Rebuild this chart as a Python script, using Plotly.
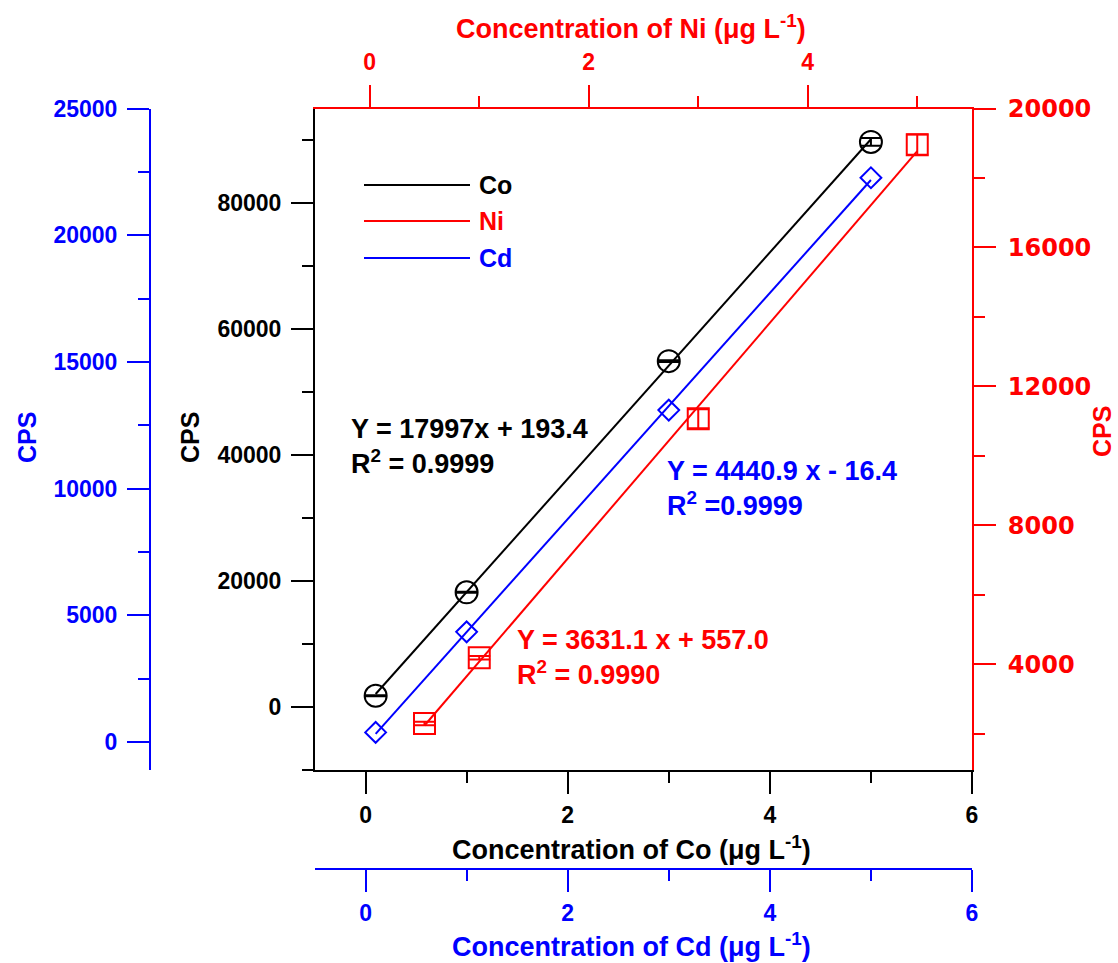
import numpy as np
import plotly.graph_objects as go

W, H = 1118, 963

# ---------------- data ----------------
co_x = [0.1, 1, 3, 5]
co_y = [1790, 18200, 54900, 89700]
co_err = [80, 80, 150, 600]

ni_x = [0.5, 1, 3, 5]
ni_y = [2300, 4190, 11070, 18960]
ni_err = [50, 50, 270, 290]

cd_x = [0.1, 1, 3, 5]
cd_y = [383, 4350, 13100, 22270]

co_eq = "Y = 17997x + 193.4<br>R<sup>2</sup> = 0.9999"
cd_eq = "Y = 4440.9 x - 16.4<br>R<sup>2</sup> =0.9999"
ni_eq = "Y = 3631.1 x + 557.0<br>R<sup>2</sup> = 0.9990"

legend_names = ["Co", "Ni", "Cd"]

# ---------------- helpers ----------------
def px(v):
    return v / W

def py(v):
    return 1 - v / H

BLACK, RED, BLUE = "#000000", "#FF0000", "#0000FF"
FONT = "Liberation Sans, Arial, sans-serif"
WIDE = "DejaVu Sans, Verdana, sans-serif"

def fit_line(xs, ys):
    k, b = np.polyfit(xs, ys, 1)
    xx = np.array([min(xs), max(xs)])
    return xx, k * xx + b

fig = go.Figure()

# fit lines
for xs, ys, col, xa, ya in [(co_x, co_y, BLACK, "x", "y"),
                            (ni_x, ni_y, RED, "x2", "y2"),
                            (cd_x, cd_y, BLUE, "x3", "y3")]:
    lx, ly = fit_line(xs, ys)
    fig.add_trace(go.Scatter(x=lx, y=ly, mode="lines", xaxis=xa, yaxis=ya,
                             line=dict(color=col, width=2), showlegend=False,
                             hoverinfo="skip"))

# markers
fig.add_trace(go.Scatter(x=co_x, y=co_y, mode="markers", name="Co",
                         xaxis="x", yaxis="y",
                         marker=dict(symbol="circle-open", size=22,
                                     color=BLACK, line=dict(width=2, color=BLACK)),
                         error_y=dict(type="data", array=co_err, width=11,
                                      thickness=2, color=BLACK),
                         showlegend=False))
fig.add_trace(go.Scatter(x=ni_x, y=ni_y, mode="markers", name="Ni",
                         xaxis="x2", yaxis="y2",
                         marker=dict(symbol="square-open", size=21,
                                     color=RED, line=dict(width=2, color=RED)),
                         error_y=dict(type="data", array=ni_err, width=11,
                                      thickness=2, color=RED),
                         showlegend=False))
fig.add_trace(go.Scatter(x=cd_x, y=cd_y, mode="markers", name="Cd",
                         xaxis="x3", yaxis="y3",
                         marker=dict(symbol="diamond-open", size=16,
                                     color=BLUE, line=dict(width=2, color=BLUE)),
                         showlegend=False))

xdom = [px(315), px(972)]
ydom = [py(770), py(108.5)]

def axis_common(col, family=FONT, size=23, standoff=0):
    return dict(showline=True, linecolor=col, linewidth=2,
                ticks="outside", ticklen=22, tickwidth=2, tickcolor=col,
                showgrid=False, zeroline=False, automargin=False,
                ticklabelstandoff=standoff,
                tickfont=dict(family=family, size=size, color=col, weight="bold"),
                tickformat="d")

fig.update_layout(
    width=W, height=H,
    margin=dict(l=0, r=0, t=0, b=0, pad=0, autoexpand=False),
    paper_bgcolor="white", plot_bgcolor="white",
    showlegend=False,
    xaxis=dict(domain=xdom, range=[-0.5, 6], anchor="y", side="bottom",
               tick0=0, dtick=2,
               minor=dict(dtick=1, ticklen=11, tickwidth=2, tickcolor=BLACK,
                          ticks="outside", showgrid=False),
               **axis_common(BLACK, standoff=1)),
    xaxis2=dict(domain=xdom, range=[-0.5, 5.5], anchor="y", side="top",
                overlaying="x", tick0=0, dtick=2,
                minor=dict(dtick=1, ticklen=11, tickwidth=2, tickcolor=RED,
                           ticks="outside", showgrid=False),
                **axis_common(RED, standoff=5)),
    xaxis3=dict(domain=xdom, range=[-0.5, 6], anchor="free", position=py(869),
                side="bottom", overlaying="x", tick0=0, dtick=2,
                minor=dict(dtick=1, ticklen=11, tickwidth=2, tickcolor=BLUE,
                           ticks="outside", showgrid=False),
                **axis_common(BLUE, standoff=1)),
    yaxis=dict(domain=ydom, range=[-10000, 95000], anchor="x", side="left",
               tick0=0, dtick=20000,
               minor=dict(dtick=10000, ticklen=11, tickwidth=2, tickcolor=BLACK,
                          ticks="outside", showgrid=False),
               **axis_common(BLACK, standoff=5)),
    yaxis2=dict(domain=ydom, range=[960, 20000], anchor="x", side="right",
                overlaying="y", tick0=0, dtick=4000,
                minor=dict(dtick=2000, ticklen=11, tickwidth=2, tickcolor=RED,
                           ticks="outside", showgrid=False),
                **axis_common(RED, WIDE, 24, standoff=7)),
    yaxis3=dict(domain=ydom, range=[-1100, 25000], anchor="free",
                position=px(150), side="left", overlaying="y",
                tick0=0, dtick=5000,
                minor=dict(dtick=2500, ticklen=11, tickwidth=2, tickcolor=BLUE,
                           ticks="outside", showgrid=False),
                **axis_common(BLUE, standoff=5)),
)

def note(text, x, y, col, size=27, angle=0, xanchor="center", align="center"):
    fig.add_annotation(text=text, x=px(x), y=py(y), xref="paper", yref="paper",
                       showarrow=False, textangle=angle, xanchor=xanchor,
                       yanchor="middle", align=align,
                       font=dict(family=FONT, size=size, color=col, weight="bold"))

# axis titles
note("Concentration of Co (μg L<sup>-1</sup>)", 631, 848, BLACK)
note("Concentration of Cd (μg L<sup>-1</sup>)", 631, 945, BLUE)
note("Concentration of Ni (μg L<sup>-1</sup>)", 631, 27, RED)
note("CPS", 190, 438, BLACK, size=25, angle=-90)
note("CPS", 27, 438, BLUE, size=25, angle=-90)
note("CPS", 1102, 432, RED, size=25, angle=-90)

# equations
note(co_eq, 349, 446, BLACK, xanchor="left", align="left")
note(cd_eq, 665, 489, BLUE, xanchor="left", align="left")
note(ni_eq, 515, 657, RED, xanchor="left", align="left")

# legend (drawn manually to match the long sample lines)
for name, col, yy in zip(legend_names, [BLACK, RED, BLUE], [185, 221, 258]):
    fig.add_shape(type="line", xref="paper", yref="paper",
                  x0=px(364), x1=px(470), y0=py(yy), y1=py(yy),
                  line=dict(color=col, width=2))
    note(name, 477, yy, col, size=25, xanchor="left", align="left")

fig.write_html("out.html", config={"displayModeBar": False},
               post_script="document.body.style.margin='0';")
